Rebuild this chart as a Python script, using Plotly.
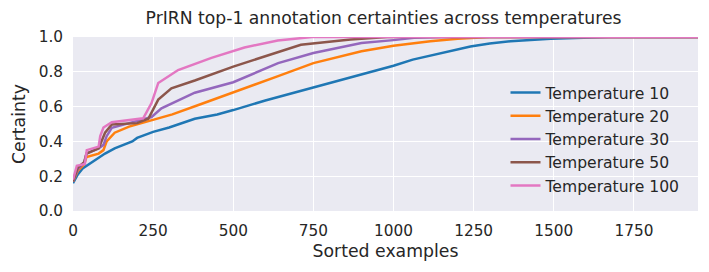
import plotly.graph_objects as go

# Sorted-example index / certainty knots
t10_x = [0, 15, 30, 50, 80, 100, 130, 160, 185, 200, 250, 300, 380, 450, 500, 600, 640, 750, 850, 950, 1000, 1060, 1160, 1240, 1300, 1365, 1490, 1580, 1670, 1950]
t10_y = [0.16, 0.21, 0.245, 0.27, 0.31, 0.33, 0.36, 0.38, 0.40, 0.42, 0.455, 0.48, 0.53, 0.555, 0.58, 0.635, 0.655, 0.71, 0.76, 0.81, 0.835, 0.87, 0.91, 0.945, 0.962, 0.976, 0.99, 0.996, 1.0, 1.0]

t20_x = [0, 15, 35, 42, 80, 95, 105, 130, 175, 245, 310, 400, 500, 600, 640, 750, 900, 1000, 1115, 1200, 1300, 1950]
t20_y = [0.17, 0.23, 0.27, 0.31, 0.33, 0.35, 0.40, 0.45, 0.485, 0.52, 0.555, 0.615, 0.68, 0.745, 0.775, 0.85, 0.918, 0.95, 0.976, 0.99, 1.0, 1.0]

t30_x = [0, 15, 35, 42, 80, 95, 105, 121, 175, 245, 276, 380, 500, 608, 640, 750, 900, 1000, 1064, 1150, 1950]
t30_y = [0.17, 0.24, 0.28, 0.33, 0.36, 0.38, 0.43, 0.478, 0.505, 0.54, 0.59, 0.68, 0.74, 0.825, 0.85, 0.908, 0.965, 0.982, 0.995, 1.0, 1.0]

t50_x = [0, 15, 35, 42, 80, 90, 100, 121, 200, 235, 266, 307, 380, 500, 608, 640, 711, 866, 980, 1950]
t50_y = [0.17, 0.25, 0.28, 0.33, 0.36, 0.40, 0.45, 0.497, 0.505, 0.53, 0.64, 0.705, 0.75, 0.83, 0.895, 0.915, 0.955, 0.985, 1.0, 1.0]

t100_x = [0, 12, 37, 43, 80, 85, 95, 121, 219, 245, 266, 328, 432, 535, 639, 746, 1950]
t100_y = [0.18, 0.26, 0.27, 0.35, 0.37, 0.43, 0.48, 0.51, 0.533, 0.62, 0.736, 0.81, 0.88, 0.94, 0.98, 1.0, 1.0]

series = [
    ("Temperature 10", t10_x, t10_y, "#1f77b4"),
    ("Temperature 20", t20_x, t20_y, "#ff7f0e"),
    ("Temperature 30", t30_x, t30_y, "#9467bd"),
    ("Temperature 50", t50_x, t50_y, "#8c564b"),
    ("Temperature 100", t100_x, t100_y, "#e377c2"),
]

x_ticks = [0, 250, 500, 750, 1000, 1250, 1500, 1750]
y_ticks = [0.0, 0.2, 0.4, 0.6, 0.8, 1.0]

fig = go.Figure()
for i, (name, xs, ys, col) in enumerate(series):
    fig.add_trace(go.Scatter(x=xs, y=ys, mode="lines", name=name,
                             line=dict(color=col, width=2.5),
                             legendgroup=f"g{i}"))

txt = "#262626"
# the page body has an 8px margin, so the figure is sized/offset to compensate
fig.update_layout(
    width=701, height=264,
    margin=dict(l=63, r=11, t=29, b=61),
    paper_bgcolor="white", plot_bgcolor="#EAEAF2",
    font=dict(family="DejaVu Sans", color=txt, size=15),
    title=dict(text="PrIRN top-1 annotation certainties across temperatures",
               x=0.5357, xanchor="center", y=0.962, yanchor="middle",
               font=dict(size=17.2, color=txt)),
    showlegend=True,
    legend=dict(x=0.692, y=0.777, xanchor="left", yanchor="top",
                bgcolor="rgba(0,0,0,0)", font=dict(size=15.6, color=txt),
                tracegroupgap=3.4, traceorder="normal"),
    xaxis=dict(range=[0, 1950], tickvals=x_ticks, ticktext=[str(v) for v in x_ticks],
               showgrid=True, gridcolor="white", gridwidth=1.2, zeroline=False,
               ticks="", showline=False, tickfont=dict(size=15.3), ticklabelstandoff=9,
               title=dict(text="Sorted examples", font=dict(size=17.3), standoff=5)),
    yaxis=dict(range=[0, 1], tickvals=y_ticks, ticktext=[f"{v:.1f}" for v in y_ticks],
               showgrid=True, gridcolor="white", gridwidth=1.2, zeroline=False,
               ticks="", showline=False, tickfont=dict(size=15.3), ticklabelstandoff=9,
               title=dict(text="Certainty", font=dict(size=17.3), standoff=8)),
)

fig.write_html("out.html")
